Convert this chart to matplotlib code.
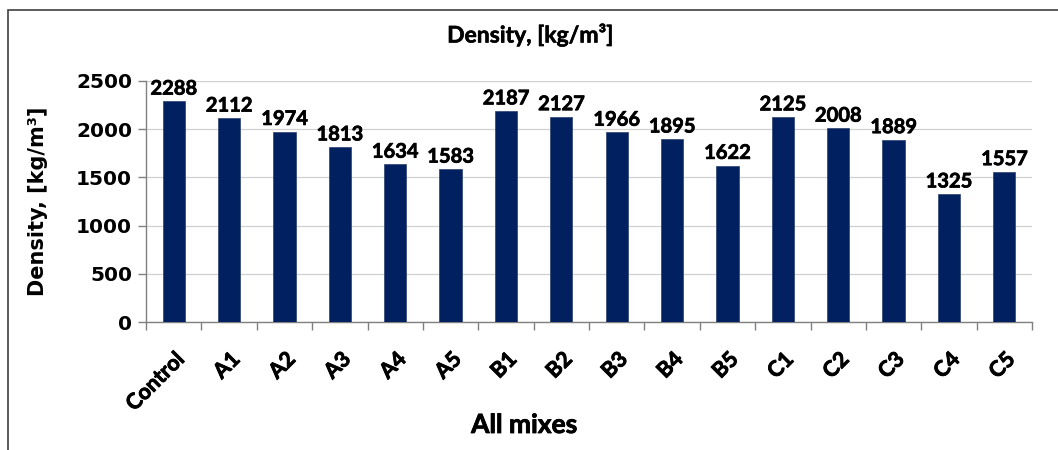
import matplotlib
matplotlib.use("Agg")
import matplotlib.pyplot as plt
from matplotlib.patches import Rectangle
from matplotlib.transforms import ScaledTranslation
import matplotlib.patheffects as pe
import numpy as np

categories = ["Control", "A1", "A2", "A3", "A4", "A5", "B1", "B2", "B3", "B4", "B5",
              "C1", "C2", "C3", "C4", "C5"]
density = [2288, 2112, 1974, 1813, 1634, 1583, 2187, 2127, 1966, 1895, 1622,
           2125, 2008, 1889, 1325, 1557]
y_ticks = [0, 500, 1000, 1500, 2000, 2500]

W, H = 1058, 450
fig = plt.figure(figsize=(W / 100, H / 100), dpi=100)
fig.patch.set_facecolor("white")

# outer frame
fig.patches.append(Rectangle((8 / W, -0.2), 2.0, 1.2 - 10 / H,
                             transform=fig.transFigure, fill=False,
                             edgecolor="#404040", linewidth=1.2))

ax = fig.add_axes([146 / W, 1 - 322 / H, (1032 - 146) / W, (322 - 81) / H])
x = np.arange(len(categories))
ax.bar(x, density, width=0.4, color="#002060", edgecolor="#2a3f6f", linewidth=0.5, zorder=3)

LF = "Lato"


def thick(w):
    return [pe.withStroke(linewidth=w, foreground="black")]


for xi, v in zip(x, density):
    ax.annotate(f"{v}", (xi, v), xytext=(0, 2), textcoords="offset points",
                ha="center", va="bottom", fontsize=14.5, fontweight="bold",
                family=LF, color="black", clip_on=False, zorder=4,
                path_effects=thick(0.5))

ax.set_xlim(-0.5, len(categories) - 0.5)
ax.set_ylim(0, 2500)
ax.set_yticks(y_ticks)
ax.set_yticklabels([str(t) for t in y_ticks], fontsize=14.5, fontweight="bold",
                   family="DejaVu Sans")
ax.set_xticks(x)
ax.set_xticklabels(categories, rotation=45, ha="right", rotation_mode="anchor",
                   fontsize=15.5, fontweight="bold", family=LF)
shift = ScaledTranslation(-5 / 100, 0, fig.dpi_scale_trans)
for lab in ax.get_xticklabels():
    lab.set_transform(lab.get_transform() + shift)
    lab.set_path_effects(thick(0.6))
ax.set_xticks(np.arange(-0.5, len(categories)), minor=True)
ax.tick_params(axis="x", which="major", length=0, pad=19)
ax.tick_params(axis="x", which="minor", length=6, color="#808080", width=1)
ax.tick_params(axis="y", length=6, color="#808080", width=1, pad=4)

ax.grid(axis="y", color="#d0d0d0", linewidth=0.9, zorder=0)
for s in ["top", "right"]:
    ax.spines[s].set_visible(False)
for s in ["left", "bottom"]:
    ax.spines[s].set_color("#808080")
    ax.spines[s].set_linewidth(1)

ax.set_ylabel("Density, [kg/m³]", fontsize=15, fontweight="bold",
              family="DejaVu Sans", labelpad=20)

fig.text(530 / W, 1 - 35 / H, "Density, [kg/m³]", ha="center", va="center",
         fontsize=16.5, fontweight="bold", family=LF, path_effects=thick(0.4))
fig.text(524 / W, 1 - 425 / H, "All mixes", ha="center", va="center",
         fontsize=19, fontweight="bold", family=LF, path_effects=thick(0.6))

fig.savefig("out.png", dpi=100, facecolor="white")
